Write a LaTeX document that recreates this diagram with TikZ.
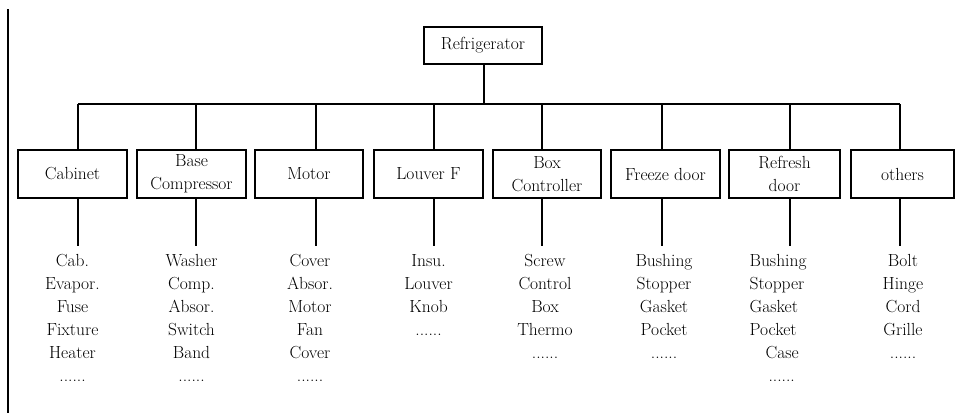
\documentclass[tikz,border=0pt]{standalone}
\begin{document}
\begin{tikzpicture}[x=1pt,y=-1pt,
  line width=1.2pt,
  txt/.style={font={\fontsize{17.5}{23}\selectfont}},
  partbox/.style={draw,txt,rectangle,inner sep=0pt,align=center,minimum height=48pt},
  rootbox/.style={draw,txt,rectangle,inner sep=0pt,minimum width=118pt,minimum height=37pt},
  itemlist/.style={txt,inner sep=0pt,anchor=north,align=center}]
\useasboundingbox (0,0) rectangle (960,413);
\coordinate (lt) at (8,9);
\coordinate (lb) at (8,413);
\draw (lt) -- (lb);
\node[rootbox] (root) at (483,45.5) {Refrigerator};
% parts
\node[partbox,minimum width=109pt] (c1) at (72.5,174) {Cabinet};
\node[partbox,minimum width=109pt] (c2) at (191.5,174) {Base\\Compressor};
\node[partbox,minimum width=108pt] (c3) at (309,174) {Motor};
\node[partbox,minimum width=109pt] (c4) at (428.5,174) {Louver F};
\node[partbox,minimum width=108pt] (c5) at (547,174) {Box\\Controller};
\node[partbox,minimum width=109pt] (c6) at (665.5,174) {Freeze door};
\node[partbox,minimum width=111pt] (c7) at (784.5,174) {Refresh\\door};
\node[partbox,minimum width=103pt] (c8) at (902.5,174) {others};
% bus
\coordinate (t1) at (78,104);
\coordinate (t2) at (196,104);
\coordinate (t3) at (316,104);
\coordinate (t4) at (434,104);
\coordinate (t5) at (542,104);
\coordinate (t6) at (662,104);
\coordinate (t7) at (790,104);
\coordinate (t8) at (900,104);
\draw (t1) -- (t8);
\draw (root.south -| 484,0) -- (484,104);
\foreach \i in {1,...,8}{
  \draw (t\i) -- (t\i |- c\i.north);
  \draw (t\i |- c\i.south) -- ++(0,47);
}
% lists
\node[itemlist] (l1) at (72.5,254) {Cab.\\Evapor.\\Fuse\\Fixture\\Heater\\......};
\node[itemlist] (l2) at (191.5,254) {Washer\\Comp.\\Absor.\\Switch\\Band\\......};
\node[itemlist] (l3) at (310,254) {Cover\\Absor.\\Motor\\Fan\\Cover\\......};
\node[itemlist] (l4) at (428.5,254) {Insu.\\Louver\\Knob\\......};
\node[itemlist] (l5) at (545,254) {Screw\\Control\\Box\\Thermo\\......};
\node[itemlist] (l6) at (664,254) {Bushing\\Stopper\\Gasket\\Pocket\\......};
\node[itemlist,anchor=north west,align=left] (l7) at (749,254) {Bushing\\Stopper\\Gasket\\Pocket\\\hspace*{16pt}Case\\\hspace*{19pt}......};
\node[itemlist] (l8) at (903,254) {Bolt\\Hinge\\Cord\\Grille\\......};
\end{tikzpicture}
\end{document}
